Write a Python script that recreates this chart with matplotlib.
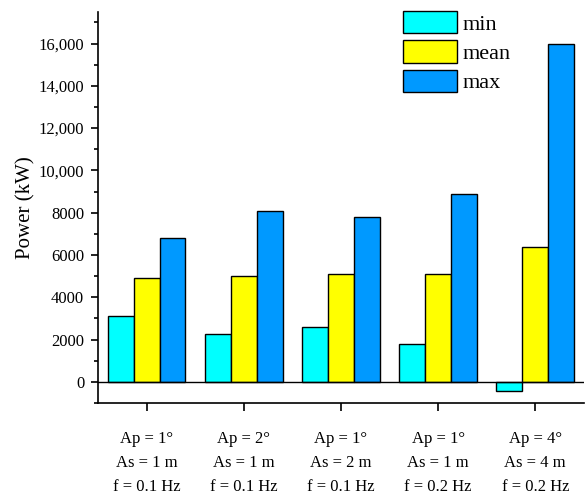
import matplotlib
matplotlib.use("Agg")
import matplotlib.pyplot as plt
import numpy as np
from matplotlib.ticker import FuncFormatter, MultipleLocator

categories = ["Ap = 1°\nAs = 1 m\nf = 0.1 Hz",
              "Ap = 2°\nAs = 1 m\nf = 0.1 Hz",
              "Ap = 1°\nAs = 2 m\nf = 0.1 Hz",
              "Ap = 1°\nAs = 1 m\nf = 0.2 Hz",
              "Ap = 4°\nAs = 4 m\nf = 0.2 Hz"]
min_vals = [3120, 2240, 2600, 1790, -420]
mean_vals = [4920, 5020, 5090, 5100, 6400]
max_vals = [6820, 8060, 7800, 8900, 15980]
series_names = ["min", "mean", "max"]
colors = ["#00FFFF", "#FFFF00", "#0099FF"]

plt.rcParams['font.family'] = ['Liberation Serif', 'DejaVu Serif']
plt.rcParams['font.size'] = 12

fig = plt.figure(figsize=(5.88, 4.95), dpi=100)
ax = fig.add_axes([0.1667, 0.186, 0.993 - 0.1667, 0.976 - 0.186])

x = np.arange(1, len(categories) + 1)
w = 0.8 / 3
for i, (vals, name, c) in enumerate(zip([min_vals, mean_vals, max_vals], series_names, colors)):
    ax.bar(x + (i - 1) * w, vals, width=w, color=c, edgecolor='black', linewidth=1.0,
           label=name, zorder=3)

ax.axhline(0, color='black', linewidth=1.0, zorder=4)
ax.set_xlim(0.5, 5.5)
ax.set_xticks(x)
ax.set_xticklabels(categories, linespacing=1.68)
ax.yaxis.set_major_locator(MultipleLocator(2000))
ax.yaxis.set_minor_locator(MultipleLocator(1000))
ax.yaxis.set_major_formatter(FuncFormatter(lambda v, p: f"{int(v):,}" if abs(v) >= 10000 else f"{int(v)}"))
ax.set_ylim(-1000, 17500)

for s in ['top', 'right']:
    ax.spines[s].set_visible(False)
for s in ['left', 'bottom']:
    ax.spines[s].set_linewidth(1.2)

ax.tick_params(axis='y', which='major', direction='out', length=5, width=1.2, labelsize=12, pad=5)
ax.tick_params(axis='y', which='minor', direction='out', length=3, width=1.2)
ax.tick_params(axis='x', which='major', direction='out', length=6, width=1.2, labelsize=12, pad=14)

ax.set_ylabel("Power (kW)", fontsize=15, labelpad=2)

ax.legend(loc='upper left', bbox_to_anchor=(0.6276, 1.003), frameon=False, fontsize=16,
          handlelength=2.43, handleheight=1.2, handletextpad=0.27, labelspacing=0.25,
          borderaxespad=0.0, borderpad=0.0)

fig.savefig("out.png", dpi=100)
